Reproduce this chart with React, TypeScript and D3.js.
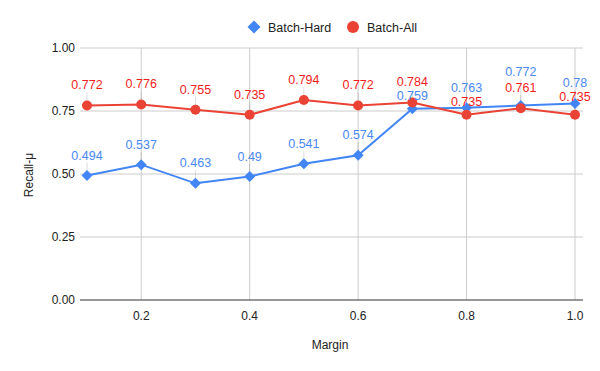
import React, { useEffect, useRef } from 'react'
import { select, scaleLinear, line } from 'd3'

const margins = [0.1, 0.2, 0.3, 0.4, 0.5, 0.6, 0.7, 0.8, 0.9, 1.0]
const batchHard = [0.494, 0.537, 0.463, 0.49, 0.541, 0.574, 0.759, 0.763, 0.772, 0.78]
const batchAll = [0.772, 0.776, 0.755, 0.735, 0.794, 0.772, 0.784, 0.735, 0.761, 0.735]
const xTicks = [0.2, 0.4, 0.6, 0.8, 1.0]
const yTicks = [0, 0.25, 0.5, 0.75, 1]

const BLUE = '#4285f4'
const RED = '#ea4335'
const FONT = 'Arial, "Liberation Sans", sans-serif'

// square rotated 45deg, half-diagonal r
const diamond = (r: number) => `M0,${-r}L${r},0L0,${r}L${-r},0Z`

function App() {
  const svgRef = useRef(null)
  const width = 600
  const height = 371

  useEffect(() => {
    const svg = select(svgRef.current)
    svg.selectAll('*').remove()

    const x = scaleLinear().domain([0.1, 1.0]).range([87, 575])
    const y = scaleLinear().domain([0, 1]).range([300, 48])

    // grid
    const grid = svg.append('g')
    grid.selectAll('.hg')
      .data(yTicks.filter(t => t > 0))
      .join('line')
      .attr('x1', 80).attr('x2', 583)
      .attr('y1', d => y(d)).attr('y2', d => y(d))
      .attr('stroke', '#cccccc').attr('stroke-width', 1)
    grid.selectAll('.vg')
      .data(xTicks)
      .join('line')
      .attr('x1', d => x(d)).attr('x2', d => x(d))
      .attr('y1', y(1)).attr('y2', y(0))
      .attr('stroke', '#cccccc').attr('stroke-width', 1)

    // baseline
    svg.append('line')
      .attr('x1', 80).attr('x2', 583)
      .attr('y1', y(0)).attr('y2', y(0))
      .attr('stroke', '#333333').attr('stroke-width', 1)

    // tick labels
    svg.append('g').selectAll('text')
      .data(yTicks)
      .join('text')
      .attr('x', 75).attr('y', d => y(d) + 4)
      .attr('text-anchor', 'end')
      .attr('font-family', FONT).attr('font-size', 12).attr('fill', '#222')
      .text(d => d.toFixed(2))
    svg.append('g').selectAll('text')
      .data(xTicks)
      .join('text')
      .attr('x', d => x(d)).attr('y', 320)
      .attr('text-anchor', 'middle')
      .attr('font-family', FONT).attr('font-size', 12).attr('fill', '#222')
      .text(d => d.toFixed(1))

    // axis titles
    svg.append('text')
      .attr('x', 330).attr('y', 349)
      .attr('text-anchor', 'middle')
      .attr('font-family', FONT).attr('font-size', 12).attr('fill', '#222')
      .text('Margin')
    svg.append('text')
      .attr('transform', 'translate(33,175) rotate(-90)')
      .attr('text-anchor', 'middle')
      .attr('font-family', FONT).attr('font-size', 12).attr('fill', '#222')
      .text('Recall-μ')

    // label placement: default above point; on collision push the lower label down,
    // unless that would run into its own marker, then stack the upper one above it
    const defHard = batchHard.map(v => y(v) - 16)
    const defAll = batchAll.map(v => y(v) - 16)
    const labHard = defHard.slice()
    const labAll = defAll.slice()
    margins.forEach((m, i) => {
      if (Math.abs(defHard[i] - defAll[i]) < 14) {
        const hardUp = batchHard[i] >= batchAll[i]
        const upDef = hardUp ? defHard : defAll
        const loDef = hardUp ? defAll : defHard
        const upLab = hardUp ? labHard : labAll
        const loLab = hardUp ? labAll : labHard
        const loVal = hardUp ? batchAll[i] : batchHard[i]
        const pushed = Math.max(loDef[i], upDef[i] + 14)
        if (pushed > y(loVal) - 8) {
          loLab[i] = loDef[i]
          upLab[i] = Math.min(upDef[i], loDef[i] - 16)
        } else {
          loLab[i] = pushed
        }
      }
    })

    const series = [
      { name: 'Batch-Hard', values: batchHard, color: BLUE, labelColor: '#4a89f3', labels: labHard },
      { name: 'Batch-All', values: batchAll, color: RED, labelColor: '#f21c1c', labels: labAll },
    ]

    // stems
    series.forEach(s => {
      svg.append('g').selectAll('line')
        .data(s.values)
        .join('line')
        .attr('x1', (d, i) => x(margins[i])).attr('x2', (d, i) => x(margins[i]))
        .attr('y1', (d, i) => s.labels[i] + 3).attr('y2', d => y(d))
        .attr('stroke', '#999').attr('stroke-opacity', 0.35).attr('stroke-width', 1)
    })

    series.forEach(s => {
      const lineGen = line<number>()
        .x((d, i) => x(margins[i]))
        .y(d => y(d))
      svg.append('path')
        .datum(s.values)
        .attr('d', lineGen)
        .attr('fill', 'none')
        .attr('stroke', s.color)
        .attr('stroke-width', 2)
    })

    // markers
    svg.append('g').selectAll('path')
      .data(batchHard)
      .join('path')
      .attr('d', diamond(5.5))
      .attr('transform', (d, i) => `translate(${x(margins[i])},${y(d)})`)
      .attr('fill', BLUE)
    svg.append('g').selectAll('circle')
      .data(batchAll)
      .join('circle')
      .attr('cx', (d, i) => x(margins[i])).attr('cy', d => y(d))
      .attr('r', 5)
      .attr('fill', RED)

    // data labels
    series.forEach(s => {
      svg.append('g').selectAll('text')
        .data(s.values)
        .join('text')
        .attr('x', (d, i) => x(margins[i])).attr('y', (d, i) => s.labels[i])
        .attr('text-anchor', 'middle')
        .attr('font-family', FONT).attr('font-size', 12.5)
        .attr('fill', s.labelColor)
        .text(d => String(d))
    })

    // legend
    const legend = svg.append('g')
    legend.append('path')
      .attr('d', diamond(6.5))
      .attr('transform', 'translate(254,27)')
      .attr('fill', BLUE)
    legend.append('text')
      .attr('x', 268).attr('y', 31.5)
      .attr('font-family', FONT).attr('font-size', 12.5).attr('fill', '#222')
      .text('Batch-Hard')
    legend.append('circle')
      .attr('cx', 353).attr('cy', 27).attr('r', 6)
      .attr('fill', RED)
    legend.append('text')
      .attr('x', 367).attr('y', 31.5)
      .attr('font-family', FONT).attr('font-size', 12.5).attr('fill', '#222')
      .text('Batch-All')
  }, [])

  return (
    <svg
      ref={svgRef}
      width={width}
      height={height}
      style={{ position: 'absolute', left: 0, top: 0, background: '#fff' }}
    />
  )
}

export default App
